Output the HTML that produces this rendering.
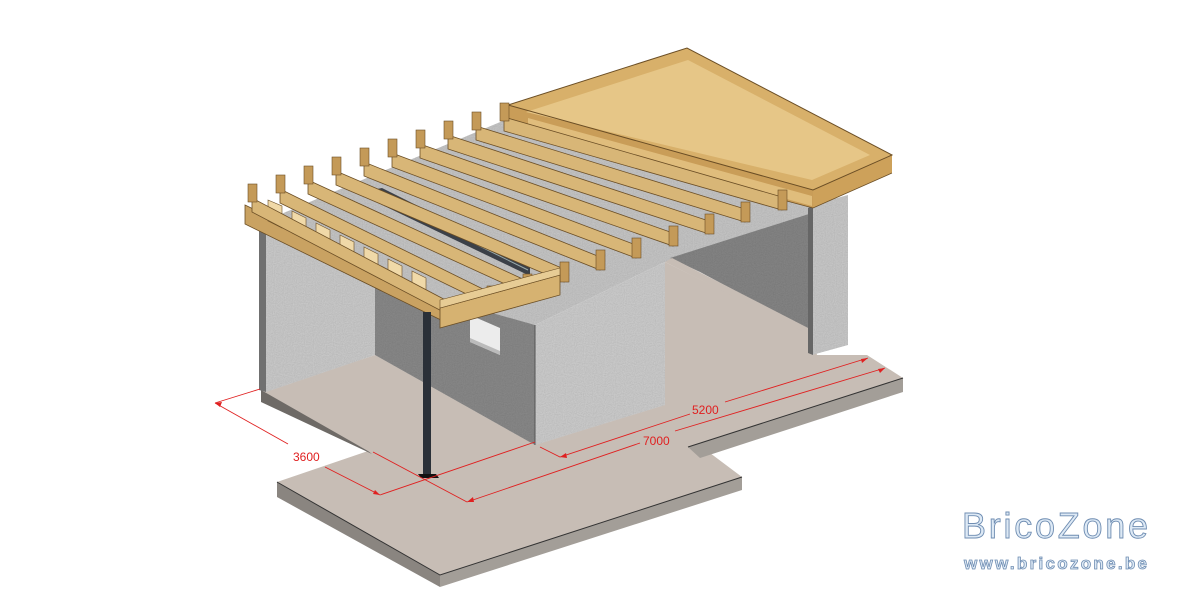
<!DOCTYPE html>
<html><head><meta charset="utf-8"><style>
html,body{margin:0;padding:0;background:#fff;width:1200px;height:606px;overflow:hidden}
svg{display:block}
</style></head><body>
<svg width="1200" height="606" viewBox="0 0 1200 606" xmlns="http://www.w3.org/2000/svg">
<defs>
<filter id="spk" x="0" y="0" width="100%" height="100%">
<feTurbulence type="fractalNoise" baseFrequency="0.9" numOctaves="1" seed="3" result="n"/>
<feColorMatrix in="n" type="saturate" values="0" result="g"/>
<feComponentTransfer in="g" result="g2"><feFuncA type="linear" slope="0" intercept="0.35"/></feComponentTransfer>
<feComposite in="g2" in2="SourceGraphic" operator="in" result="c"/>
<feBlend in="c" in2="SourceGraphic" mode="multiply"/>
</filter>
</defs>

<polygon points="262,222 505,120 812,200 812,215 665,262 535,325 375,285" fill="#cdcdcd" filter="url(#spk)"/>

<polygon points="262,392 375,355 535,440 665,400 665,262 812,335 817,355 867,355 903,378 688,447 710,453 742,477 440,575 277,482 368,451" fill="#c7bdb5"/>
<polygon points="261,390 368,451 372,454 261,402" fill="#6e6a66"/>
<polygon points="277,482 440,575 440,587 277,497" fill="#8a8580"/>
<polygon points="440,575 742,477 742,490 440,587" fill="#a39e98"/>
<polygon points="688,447 903,378 903,392 700,458" fill="#a39e98"/>
<polyline points="277,482 440,575 742,477" fill="none" stroke="#333" stroke-width="1"/>
<polyline points="688,447 903,378" fill="none" stroke="#333" stroke-width="1"/>

<polygon points="266,222 375,285 375,355 266,392" fill="#d2d2d2" filter="url(#spk)"/>
<polygon points="259,220 266,222 266,392 259,390" fill="#707070"/>
<polygon points="375,280 535,325 535,445 375,355" fill="#8e8e8e" filter="url(#spk)"/>
<polygon points="470,315 500,328 500,355 470,342" fill="#ececec"/>
<polygon points="470,338 500,351 500,355 470,342" fill="#bbb"/>
<polygon points="535,325 665,262 665,405 535,445" fill="#d4d4d4" filter="url(#spk)"/>
<line x1="535" y1="325" x2="535" y2="445" stroke="#555" stroke-width="1"/>
<polygon points="670,258 812,213 812,332 700,272" fill="#8a8a8a" filter="url(#spk)"/>
<polygon points="665,262 672,258 812,330 812,336" fill="#c7bdb5"/>
<polygon points="812,205 848,195 848,345 812,355" fill="#d0d0d0" filter="url(#spk)"/>
<polygon points="808,208 813,206 813,355 808,353" fill="#666"/>

<polygon points="372,190 382,188 530,262 530,276 372,200" fill="#3b4048"/>
<line x1="378" y1="196" x2="528" y2="270" stroke="#9aa" stroke-width="1"/>

<!-- roof box -->
<polygon points="508,127 813,208 790,200 680,168 600,140" fill="#dcb877"/>
<polygon points="508,105 813,190 813,208 508,127" fill="#c99d58"/>
<polygon points="528,118 812,196 812,206 528,128" fill="#e0bd7c"/>
<polygon points="508,105 687,48 892,155 813,190" fill="#d8b06a"/>
<polygon points="526,112 688,60 870,155 812,180" fill="#e6c687"/>
<polygon points="813,190 892,155 892,173 813,208" fill="#cda15a"/>
<polyline points="508,105 687,48 892,155 813,190 508,105" fill="none" stroke="#6b4e25" stroke-width="1"/>
<polyline points="508,127 813,208 892,173" fill="none" stroke="#6b4e25" stroke-width="0.8"/>

<polygon points="245,205 445,302 445,322 245,224" fill="#c9a262" stroke="#6b4e25" stroke-width="0.8"/>
<g fill="#f0d9a8" stroke="#6b4e25" stroke-width="0.6">
<polygon points="268,200 282,206 282,228 268,221"/>
<polygon points="292,211 306,218 306,240 292,233"/>
<polygon points="316,223 330,230 330,252 316,245"/>
<polygon points="340,235 354,242 354,264 340,257"/>
<polygon points="364,247 378,254 378,276 364,269"/>
<polygon points="388,259 402,266 402,288 388,281"/>
<polygon points="412,271 426,278 426,300 412,293"/>
</g>

<g stroke="#6b4e25" stroke-width="0.8">
<polygon points="252,198 455,305 455,318 252,212" fill="#d8b677"/>
<polygon points="280,189 491,293 491,306 280,203" fill="#d8b677"/>
<polygon points="308,180 527,281 527,294 308,194" fill="#d8b677"/>
<polygon points="336,171 564,269 564,282 336,185" fill="#d8b677"/>
<polygon points="364,162 600,257 600,270 364,176" fill="#d8b677"/>
<polygon points="392,153 636,245 636,258 392,167" fill="#d8b677"/>
<polygon points="420,144 673,233 673,246 420,158" fill="#d8b677"/>
<polygon points="448,135 709,221 709,234 448,149" fill="#d8b677"/>
<polygon points="476,126 745,209 745,222 476,140" fill="#d8b677"/>
<polygon points="504,117 782,197 782,210 504,131" fill="#d8b677"/>
</g>
<g fill="#c49a58" stroke="#6b4e25" stroke-width="0.6">
<rect x="248" y="184" width="9" height="18"/><rect x="276" y="175" width="9" height="18"/>
<rect x="304" y="166" width="9" height="18"/><rect x="332" y="157" width="9" height="18"/>
<rect x="360" y="148" width="9" height="18"/><rect x="388" y="139" width="9" height="18"/>
<rect x="416" y="130" width="9" height="18"/><rect x="444" y="121" width="9" height="18"/>
<rect x="472" y="112" width="9" height="18"/><rect x="500" y="103" width="9" height="18"/>
<rect x="487" y="286" width="9" height="20"/><rect x="523" y="274" width="9" height="20"/>
<rect x="560" y="262" width="9" height="20"/><rect x="596" y="250" width="9" height="20"/>
<rect x="632" y="238" width="9" height="20"/><rect x="669" y="226" width="9" height="20"/>
<rect x="705" y="214" width="9" height="20"/><rect x="741" y="202" width="9" height="20"/>
<rect x="778" y="190" width="9" height="20"/>
</g>
<polygon points="440,308 560,275 560,295 440,328" fill="#d6b271" stroke="#6b4e25" stroke-width="0.8"/>
<polygon points="440,300 560,268 560,275 440,308" fill="#e7cc95" stroke="#6b4e25" stroke-width="0.6"/>

<rect x="423" y="312" width="8" height="163" fill="#2a3038"/>
<polygon points="418,474 436,474 439,478 421,478" fill="#111"/>

<g stroke="#e02020" stroke-width="0.9" fill="none">
<line x1="215" y1="403" x2="260" y2="389"/>
<polyline points="215,403 288,444"/>
<polyline points="325,467 380,495"/>
<line x1="380" y1="495" x2="535" y2="442"/>
<line x1="373" y1="452" x2="467" y2="502"/>
<polyline points="540,447 560,457 690,414"/>
<line x1="725" y1="402" x2="868" y2="358"/>
<polyline points="467,502 640,443"/>
<line x1="675" y1="431" x2="885" y2="368"/>
</g>
<g fill="#e02020">
<polygon points="215,403 222,402 220,407"/>
<polygon points="380,495 373,494 375,490"/>
<polygon points="560,457 566,453 567,458"/>
<polygon points="868,358 861,359 862,363"/>
<polygon points="467,502 473,497 474,502"/>
<polygon points="885,368 878,369 880,373"/>
</g>
<g font-family="Liberation Sans, sans-serif" font-size="12" fill="#e02020">
<text x="293" y="461">3600</text>
<text x="692" y="414">5200</text>
<text x="643" y="445">7000</text>
</g>

<text x="962" y="538" font-family="Liberation Sans, sans-serif" font-size="36" fill="#dde9f5" stroke="#6f8db2" stroke-width="0.9" textLength="186">BricoZone</text>
<text x="964" y="569" font-family="Liberation Sans, sans-serif" font-size="17" font-weight="bold" fill="#dde9f5" stroke="#6f8db2" stroke-width="0.8" textLength="183">www.bricozone.be</text>
</svg>
</body></html>
